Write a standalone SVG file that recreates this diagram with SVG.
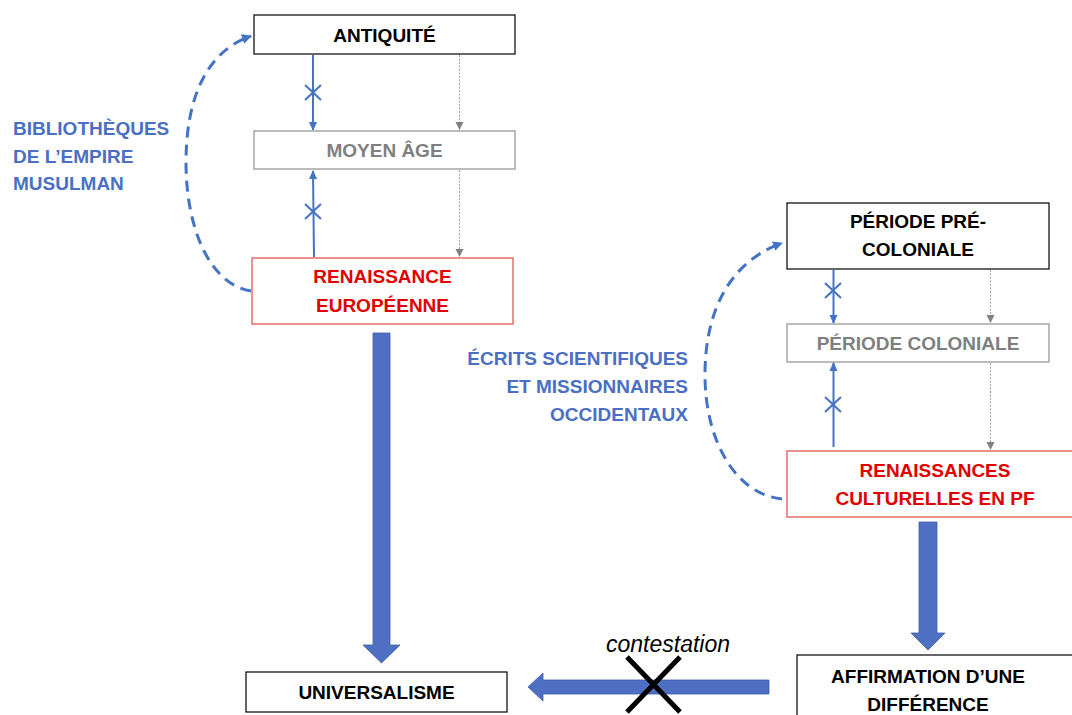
<svg xmlns="http://www.w3.org/2000/svg" width="1072" height="715" viewBox="0 0 1072 715">
<defs>
<style>
.t{font-family:"Liberation Sans",Arial,sans-serif;font-weight:bold;font-size:19px;text-anchor:middle}
.blk{fill:#000}
.gry{fill:#7f7f7f}
.red{fill:#e00000}
.blu{fill:#4a6fc4;font-family:"Liberation Sans",Arial,sans-serif;font-weight:bold;font-size:19px}
.bx{fill:#fff;stroke:#000;stroke-width:1.2}
.bxg{fill:#fff;stroke:#a6a6a6;stroke-width:1.5}
.bxr{fill:#fff;stroke:#e86c6c;stroke-width:1.5}
.thin{stroke:#4472c4;stroke-width:2;fill:none}
.dot{stroke:#a0a0a0;stroke-width:1;stroke-dasharray:2 1.5;fill:none}
.dash{stroke:#4472c4;stroke-width:3;stroke-dasharray:11 7;fill:none}
.fat{fill:#4f6fc3;stroke:#3d5ea8;stroke-width:0.8}
</style>
<marker id="ab" markerWidth="10" markerHeight="10" refX="8" refY="5" orient="auto" markerUnits="userSpaceOnUse">
<path d="M0,1 L9,5 L0,9 Z" fill="#4472c4"/>
</marker>
<marker id="ag" markerWidth="10" markerHeight="10" refX="8" refY="5" orient="auto" markerUnits="userSpaceOnUse">
<path d="M0,1 L8,5 L0,9 Z" fill="#808080"/>
</marker>
<marker id="ad" markerWidth="12" markerHeight="12" refX="9" refY="6" orient="auto" markerUnits="userSpaceOnUse">
<path d="M0,1 L10,6 L0,11 Z" fill="#4472c4"/>
</marker>
</defs>

<g id="connectors">
<line class="thin" x1="313" y1="55" x2="313" y2="130" marker-end="url(#ab)"/>
<path class="thin" d="M305,85 L321,100 M321,85 L305,100"/>
<line class="thin" x1="314" y1="257" x2="313" y2="171" marker-end="url(#ab)"/>
<path class="thin" d="M305,204 L321,219 M321,204 L305,219"/>
<line class="dot" x1="459.5" y1="55" x2="459.5" y2="130" marker-end="url(#ag)"/>
<line class="dot" x1="459.5" y1="170" x2="459.5" y2="257" marker-end="url(#ag)"/>
<path class="dash" d="M251,291 C208,284 186,225 186,163 C186,100 205,52 251,36" marker-end="url(#ad)"/>
<line class="thin" x1="833.5" y1="270" x2="833.5" y2="323" marker-end="url(#ab)"/>
<path class="thin" d="M825,283 L841,298 M841,283 L825,298"/>
<line class="thin" x1="833.5" y1="447" x2="833.5" y2="363" marker-end="url(#ab)"/>
<path class="thin" d="M825,397 L841,412 M841,397 L825,412"/>
<line class="dot" x1="990.5" y1="270" x2="990.5" y2="323" marker-end="url(#ag)"/>
<line class="dot" x1="990.5" y1="363" x2="990.5" y2="450" marker-end="url(#ag)"/>
<path class="dash" d="M782,499 C735,494 705,440 705,375 C705,310 730,262 782,243" marker-end="url(#ad)"/>
<path class="fat" d="M373,333 L390,333 L390,645 L400,645 L381.5,663 L363,645 L373,645 Z"/>
<path class="fat" d="M919,522 L937,522 L937,633 L945,633 L928,650 L911,633 L919,633 Z"/>
<path class="fat" d="M769,680 L769,694 L543,694 L543,701 L528,687 L543,673 L543,680 Z"/>
<path d="M627,657 L680,712 M680,657 L627,712" stroke="#000" stroke-width="5" fill="none"/>
<text x="668" y="652" font-family="'Liberation Sans',Arial,sans-serif" font-style="italic" font-size="23" text-anchor="middle" fill="#000">contestation</text>
</g>

<g id="antiquite">
<rect class="bx" x="254" y="15" width="261" height="39"/>
<text class="t blk" x="384.5" y="42" font-size="20">ANTIQUITÉ</text>
</g>
<g id="moyen-age">
<rect class="bxg" x="254" y="131" width="261" height="38"/>
<text class="t gry" x="384.5" y="157">MOYEN ÂGE</text>
</g>
<g id="renaissance-europeenne">
<rect class="bxr" x="252" y="258" width="261" height="66"/>
<text class="t red" x="382.5" y="283">RENAISSANCE</text>
<text class="t red" x="382.5" y="311.5">EUROPÉENNE</text>
</g>
<g id="bibliotheques">
<text class="blu" x="13" y="135">BIBLIOTHÈQUES</text>
<text class="blu" x="13" y="162.5">DE L’EMPIRE</text>
<text class="blu" x="13" y="190">MUSULMAN</text>
</g>
<g id="universalisme">
<rect class="bx" x="246" y="672" width="261" height="40"/>
<text class="t blk" x="376.5" y="699">UNIVERSALISME</text>
</g>
<g id="periode-precoloniale">
<rect class="bx" x="787" y="203" width="262" height="66"/>
<text class="t blk" x="918" y="227.5">PÉRIODE PRÉ-</text>
<text class="t blk" x="918" y="256">COLONIALE</text>
</g>
<g id="periode-coloniale">
<rect class="bxg" x="787" y="324" width="262" height="38"/>
<text class="t gry" x="918" y="350">PÉRIODE COLONIALE</text>
</g>
<g id="renaissances-culturelles">
<rect class="bxr" x="787" y="451" width="300" height="66"/>
<text class="t red" x="935" y="477">RENAISSANCES</text>
<text class="t red" x="935" y="505">CULTURELLES EN PF</text>
</g>
<g id="ecrits">
<text class="blu" x="688" y="365" text-anchor="end">ÉCRITS SCIENTIFIQUES</text>
<text class="blu" x="688" y="393" text-anchor="end">ET MISSIONNAIRES</text>
<text class="blu" x="688" y="421" text-anchor="end">OCCIDENTAUX</text>
</g>
<g id="affirmation">
<rect class="bx" x="797" y="655" width="300" height="70"/>
<text class="t blk" x="928" y="683">AFFIRMATION D’UNE</text>
<text class="t blk" x="928" y="711">DIFFÉRENCE</text>
</g>
</svg>
